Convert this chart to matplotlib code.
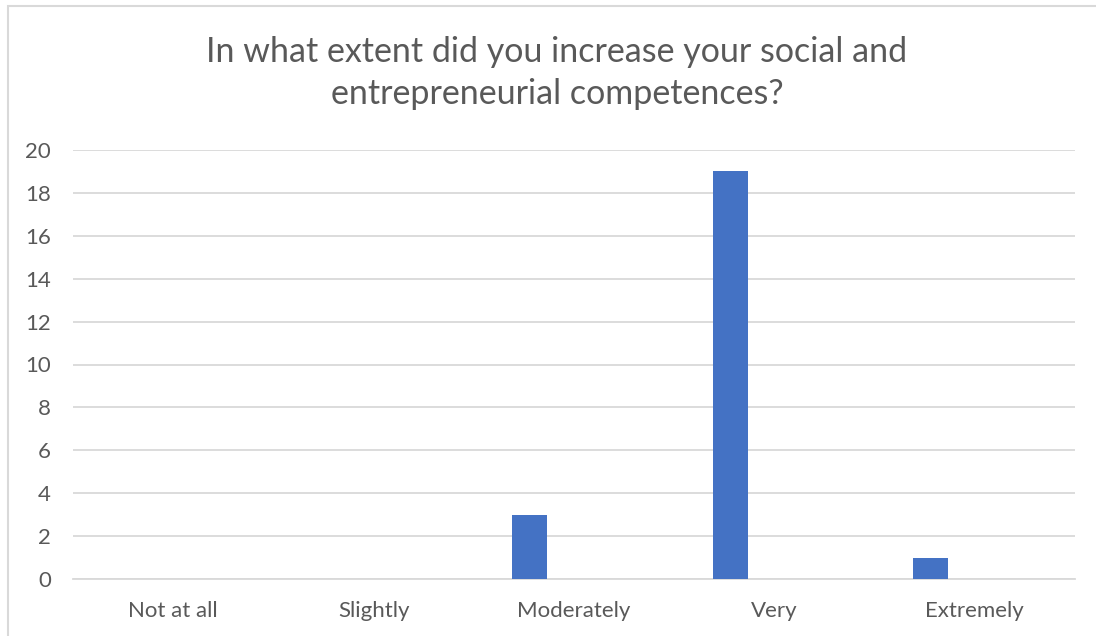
import matplotlib.pyplot as plt
import numpy as np
from matplotlib.patches import Rectangle

categories = ['Not at all', 'Slightly', 'Moderately', 'Very', 'Extremely']
counts = [0, 0, 3, 19, 1]
y_ticks = [0, 2, 4, 6, 8, 10, 12, 14, 16, 18, 20]

plt.rcParams['font.family'] = ['Lato', 'DejaVu Sans']
text_color = '#595959'

fig = plt.figure(figsize=(10.96, 6.36), dpi=100)
W, H = 1096, 636
ax = fig.add_axes([73 / W, 1 - 579 / H, (1075 - 73) / W, (579 - 150) / H])

x = np.arange(len(categories))
ax.bar(x - 0.22, counts, width=0.175, color='#4472c4', zorder=3)

ax.set_xlim(-0.5, len(categories) - 0.5)
ax.set_ylim(0, 20)
ax.set_yticks(y_ticks)
ax.set_xticks(x)
ax.set_xticklabels(categories)
ax.tick_params(axis='both', length=0, labelsize=16, labelcolor=text_color)
ax.tick_params(axis='x', pad=16)
ax.tick_params(axis='y', pad=16)
ax.grid(axis='y', color='#d9d9d9', linewidth=1.3, zorder=0)
for s in ['top', 'right', 'left']:
    ax.spines[s].set_visible(False)
ax.spines['bottom'].set_color('#d9d9d9')
ax.spines['bottom'].set_linewidth(1.3)

fig.text(557 / W, 1 - 73 / H,
         'In what extent did you increase your social and\nentrepreneurial competences?',
         ha='center', va='center', fontsize=24.5, color=text_color, linespacing=1.42)

# outer chart frame
fig.patches.append(Rectangle((8 / W, -0.1), 1.2, 1 - 6 / H + 0.1,
                             transform=fig.transFigure, fill=False,
                             edgecolor='#d9d9d9', linewidth=1.5))

fig.savefig('out.png', dpi=100)
